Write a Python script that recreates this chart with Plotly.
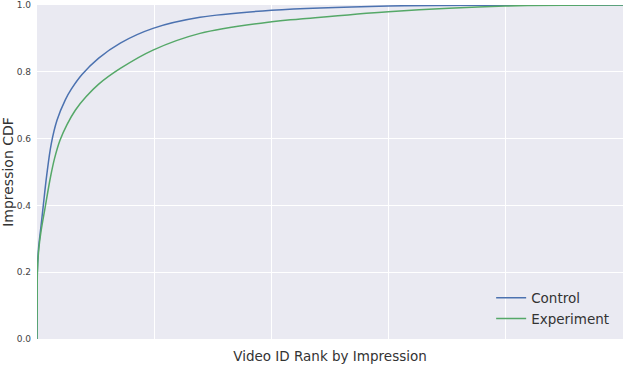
import plotly.graph_objects as go

# Rank positions (x) and CDF values
control_rank = [0, 9, 26, 128, 316, 538, 828, 1220, 1706, 2415, 2927, 3840, 5265, 7108,
                9898, 13908, 20026, 29983, 39966, 50000]
control_cdf = [0.0, 0.10, 0.20, 0.27, 0.33, 0.40, 0.49, 0.585, 0.655, 0.716, 0.748,
               0.792, 0.841, 0.886, 0.93, 0.963, 0.984, 0.997, 0.9995, 1.0]

experiment_rank = [0, 17, 34, 154, 333, 700, 1152, 1493, 1962, 2560, 3268, 4181, 5265,
                   7108, 9898, 13908, 20026, 22474, 29983, 39966, 50000]
experiment_cdf = [0.0, 0.10, 0.20, 0.27, 0.32, 0.395, 0.485, 0.54, 0.595, 0.642, 0.685,
                  0.725, 0.763, 0.81, 0.865, 0.915, 0.95, 0.958, 0.98, 0.997, 1.0]

y_ticks = [0.0, 0.2, 0.4, 0.6, 0.8, 1.0]
x_grid = [10000, 20000, 30000, 40000]

fig = go.Figure()
fig.add_trace(go.Scatter(x=control_rank, y=control_cdf, mode="lines", name="Control",
                         line=dict(color="#4C72B0", width=1.5, shape="spline", smoothing=1.0)))
fig.add_trace(go.Scatter(x=experiment_rank, y=experiment_cdf, mode="lines", name="Experiment",
                         line=dict(color="#55A868", width=1.5, shape="spline", smoothing=1.0)))

fig.update_layout(
    width=640, height=371,
    margin=dict(l=37, r=17, t=5, b=32),
    paper_bgcolor="white",
    plot_bgcolor="#EAEAF2",
    font=dict(family="DejaVu Sans", color="#333333"),
    showlegend=True,
    legend=dict(x=0.775, y=0.169, xanchor="left", yanchor="top",
                bgcolor="rgba(0,0,0,0)", font=dict(size=13.5, color="#333333"),
                itemwidth=30, tracegroupgap=0),
    xaxis=dict(range=[0, 50000], tickvals=x_grid, showticklabels=False,
               showgrid=True, gridcolor="white", gridwidth=1, zeroline=False,
               showline=False, ticks="", automargin=False,
               title=dict(text="Video ID Rank by Impression", font=dict(size=13.5),
                          standoff=12)),
    yaxis=dict(range=[0, 1], tickvals=y_ticks, tickformat=".1f",
               tickfont=dict(size=9, color="#444444"),
               showgrid=True, gridcolor="white", gridwidth=1, zeroline=False,
               showline=False, ticks="", ticklabelstandoff=5, automargin=False,
               title=dict(text="Impression CDF", font=dict(size=14), standoff=6)),
)
fig.write_html("out.html", config={"displayModeBar": False},
               post_script="document.body.style.margin='0';document.body.style.padding='0';")
